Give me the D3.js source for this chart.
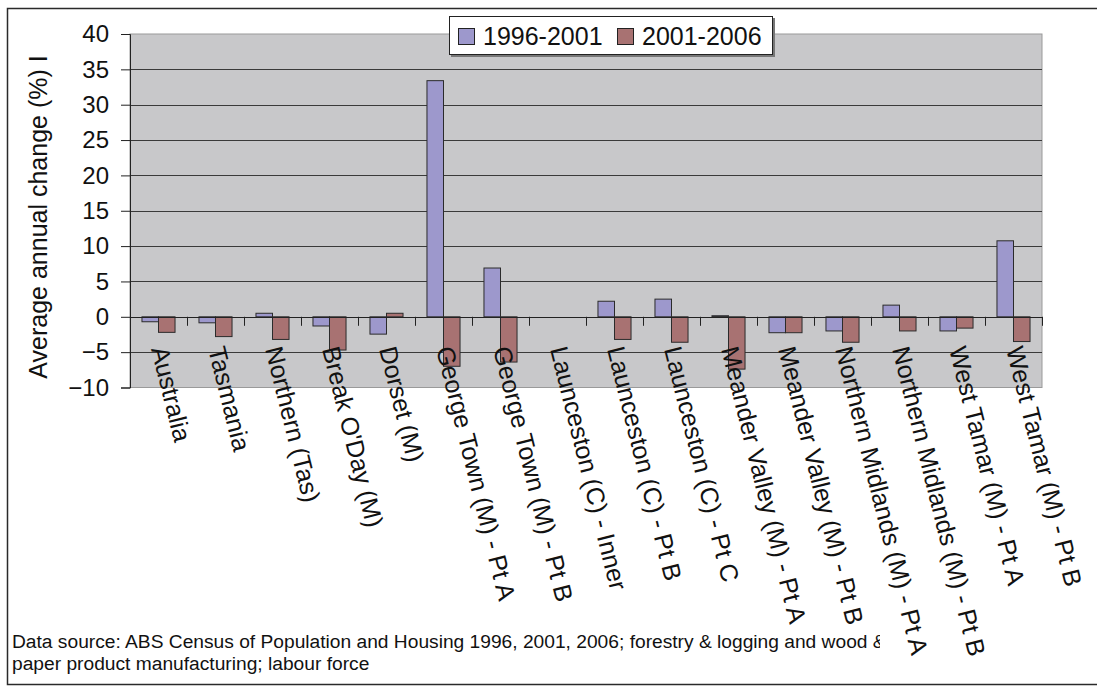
<!DOCTYPE html>
<html>
<head>
<meta charset="utf-8">
<script src="https://cdn.jsdelivr.net/npm/d3@7"></script>
<style>
  html, body { margin: 0; padding: 0; background: #fff; }
  svg { display: block; }
  text { font-family: "Liberation Sans", Arial, sans-serif; fill: #111; }
</style>
</head>
<body>
<svg id="chart" width="1097" height="686"></svg>
<script>
// ---- data ----
const categories = [
  "Australia", "Tasmania", "Northern (Tas)", "Break O'Day (M)", "Dorset (M)",
  "George Town (M) - Pt A", "George Town (M) - Pt B", "Launceston (C) - Inner",
  "Launceston (C) - Pt B", "Launceston (C) - Pt C", "Meander Valley (M) - Pt A",
  "Meander Valley (M) - Pt B", "Northern Midlands (M) - Pt A", "Northern Midlands (M) - Pt B",
  "West Tamar (M) - Pt A", "West Tamar (M) - Pt B"
];
const seriesNames = ["1996-2001", "2001-2006"];
const values1996_2001 = [-0.7, -0.85, 0.5, -1.3, -2.45, 33.4, 6.9, 0, 2.2, 2.5, 0.15, -2.25, -2.0, 1.65, -2.0, 10.75];
const values2001_2006 = [-2.2, -2.8, -3.2, -4.7, 0.5, -7.0, -6.4, 0, -3.2, -3.6, -7.4, -2.25, -3.6, -2.0, -1.6, -3.5];
const yTicks = [-10, -5, 0, 5, 10, 15, 20, 25, 30, 35, 40];
const yTitle = "Average annual change (%) I";
const footnoteLines = [
  "Data source: ABS Census of Population and Housing 1996, 2001, 2006; forestry & logging and wood & ",
  "paper product manufacturing; labour force"
];

const colors = ["#9d98cc", "#a87272"];
const seriesValues = [values1996_2001, values2001_2006];

// ---- layout ----
const svg = d3.select("#chart");
const plot = { left: 130, right: 1042, top: 34, bottom: 387.5 };

const x = d3.scaleBand().domain(categories).range([plot.left, plot.right])
  .paddingInner(0.42).paddingOuter(0.21);
const xs = d3.scaleBand().domain(seriesNames).range([0, x.bandwidth()]);
const y = d3.scaleLinear().domain([-10, 40]).range([plot.bottom, plot.top]);

// outer border
svg.append("rect").attr("x", 7.5).attr("y", 8.5).attr("width", 1100).attr("height", 676)
  .attr("fill", "#fff").attr("stroke", "#2a2a2a").attr("stroke-width", 1.5);

// plot background
svg.append("rect").attr("x", plot.left).attr("y", plot.top)
  .attr("width", plot.right - plot.left).attr("height", plot.bottom - plot.top)
  .attr("fill", "#c8c8ca").attr("stroke", "#9a9a9a").attr("stroke-width", 1);

// gridlines
svg.append("g").selectAll("line").data(yTicks.filter(t => t > -10 && t < 40)).join("line")
  .attr("x1", plot.left).attr("x2", plot.right)
  .attr("y1", d => Math.round(y(d)) + 0.5).attr("y2", d => Math.round(y(d)) + 0.5)
  .attr("stroke", "#3a3a3a").attr("stroke-width", 1);

// bars
const groups = svg.append("g").selectAll("g").data(categories).join("g")
  .attr("transform", d => `translate(${x(d)},0)`);
groups.selectAll("rect").data((d, i) => seriesNames.map((s, k) => ({ s, v: seriesValues[k][i], k })))
  .join("rect")
  .filter(d => d.v !== 0)
  .attr("x", d => xs(d.s))
  .attr("width", xs.bandwidth())
  .attr("y", d => y(Math.max(0, d.v)))
  .attr("height", d => Math.abs(y(d.v) - y(0)))
  .attr("fill", d => colors[d.k])
  .attr("stroke", "#2b2b2b").attr("stroke-width", 1);

// y axis
const yAxis = d3.axisLeft(y).tickValues(yTicks).tickSize(9).tickPadding(12).tickFormat(d3.format("d"));
const gy = svg.append("g").attr("transform", `translate(${plot.left},0)`).call(yAxis);
gy.select(".domain").attr("stroke", "#222");
gy.selectAll(".tick line").attr("stroke", "#222");
gy.selectAll(".tick text").attr("font-size", 24).attr("fill", "#111")
  .style("font-family", "'Liberation Sans', Arial, sans-serif");

// x axis at zero, ticks at category boundaries
const step = x.step();
const boundaries = d3.range(categories.length + 1).map(i => plot.left + i * step);
const gx = svg.append("g");
gx.append("line").attr("x1", plot.left).attr("x2", plot.right)
  .attr("y1", Math.round(y(0)) + 0.5).attr("y2", Math.round(y(0)) + 0.5)
  .attr("stroke", "#222").attr("stroke-width", 1);
gx.selectAll("line.tk").data(boundaries).join("line").attr("class", "tk")
  .attr("x1", d => Math.round(d) + 0.5).attr("x2", d => Math.round(d) + 0.5)
  .attr("y1", y(0)).attr("y2", y(0) + 9)
  .attr("stroke", "#222").attr("stroke-width", 1);

// category labels (rotated)
gx.selectAll("text").data(categories).join("text")
  .attr("transform", d => `translate(${x(d) + x.bandwidth() / 2 + 1},${y(0) + 30}) rotate(76)`)
  .attr("text-anchor", "start")
  .attr("dy", "0.35em")
  .attr("font-size", 25)
  .text(d => d);

// y title
svg.append("text")
  .attr("transform", `translate(47,217) rotate(-90)`)
  .attr("text-anchor", "middle")
  .attr("font-size", 25)
  .text(yTitle);

// legend
const lg = svg.append("g");
lg.append("rect").attr("x", 451).attr("y", 18).attr("width", 324).attr("height", 39).attr("fill", "#777");
lg.append("rect").attr("x", 449.5).attr("y", 16.5).attr("width", 323).attr("height", 38)
  .attr("fill", "#fff").attr("stroke", "#222").attr("stroke-width", 1);
const legendX = [458, 617];
seriesNames.forEach((s, k) => {
  lg.append("rect").attr("x", legendX[k] + 0.5).attr("y", 28.5).attr("width", 16).attr("height", 16)
    .attr("fill", colors[k]).attr("stroke", "#222").attr("stroke-width", 1);
  lg.append("text").attr("x", legendX[k] + 25).attr("y", 45).attr("font-size", 25).text(s);
});

// footnote
svg.append("clipPath").attr("id", "fnclip").append("rect")
  .attr("x", 0).attr("y", 600).attr("width", 880).attr("height", 86);
svg.append("g").attr("clip-path", "url(#fnclip)").selectAll("text").data(footnoteLines).join("text")
  .attr("x", 12).attr("y", (d, i) => 648 + i * 22)
  .attr("font-size", 19.2)
  .text(d => d);
</script>
</body>
</html>
